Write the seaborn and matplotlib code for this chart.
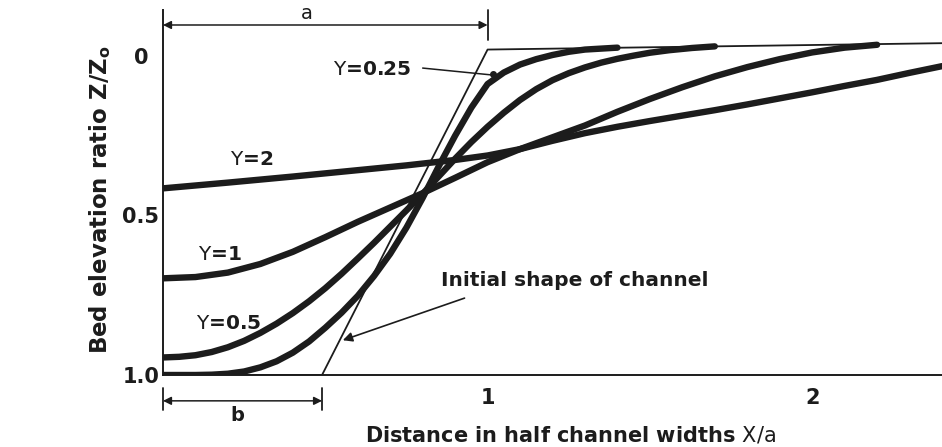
import matplotlib
matplotlib.use("Agg")
import matplotlib.pyplot as plt
import seaborn as sns
import pandas as pd

# ---------------- data ----------------
gamma_labels = ["Y=0.25", "Y=0.5", "Y=1", "Y=2"]

g025_x = [0.00, 0.10, 0.15, 0.20, 0.25, 0.30, 0.35, 0.40, 0.45, 0.50, 0.55, 0.60, 0.65,
          0.70, 0.75, 0.80, 0.85, 0.90, 0.95, 1.00, 1.05, 1.10, 1.15, 1.20, 1.25, 1.30, 1.40]
g025_z = [1.000, 1.000, 0.999, 0.996, 0.989, 0.976, 0.957, 0.930, 0.895, 0.852, 0.805, 0.752, 0.690,
          0.620, 0.538, 0.445, 0.345, 0.250, 0.162, 0.088, 0.052, 0.027, 0.010, -0.003, -0.013, -0.020, -0.026]

g05_x = [0.00, 0.05, 0.10, 0.15, 0.20, 0.25, 0.30, 0.35, 0.40, 0.45, 0.50, 0.55, 0.60, 0.65,
         0.70, 0.75, 0.80, 0.85, 0.90, 0.95, 1.00, 1.05, 1.10, 1.15, 1.20, 1.25, 1.30, 1.35,
         1.40, 1.45, 1.50, 1.56, 1.63, 1.70]
g05_z = [0.945, 0.943, 0.938, 0.928, 0.913, 0.893, 0.868, 0.839, 0.806, 0.769, 0.728, 0.683, 0.635, 0.586,
         0.535, 0.484, 0.432, 0.377, 0.322, 0.270, 0.222, 0.178, 0.138, 0.104, 0.076, 0.054, 0.036, 0.021,
         0.009, -0.001, -0.010, -0.018, -0.025, -0.030]

g1_x = [0.0, 0.1, 0.2, 0.3, 0.4, 0.5, 0.6, 0.7, 0.8, 0.9, 1.0, 1.1, 1.2, 1.3, 1.4, 1.5,
        1.6, 1.7, 1.8, 1.9, 2.0, 2.1, 2.2]
g1_z = [0.697, 0.693, 0.679, 0.652, 0.614, 0.568, 0.520, 0.475, 0.430, 0.382, 0.333, 0.292, 0.255, 0.218, 0.175, 0.135,
        0.098, 0.064, 0.035, 0.010, -0.011, -0.026, -0.035]

g2_x = [0.0, 0.2, 0.4, 0.6, 0.75, 0.9, 1.0, 1.1, 1.2, 1.3, 1.4, 1.5, 1.6, 1.7, 1.8, 1.9,
        2.0, 2.1, 2.2, 2.3, 2.4]
g2_z = [0.415, 0.397, 0.378, 0.358, 0.343, 0.326, 0.312, 0.292, 0.266, 0.242, 0.222, 0.204, 0.187, 0.170, 0.152, 0.133,
        0.114, 0.094, 0.075, 0.053, 0.032]

init_x = [0.0, 0.49, 1.0, 2.4]
init_z = [1.0, 1.0, -0.02, -0.04]

x_ticks = [1, 2]
x_ticklabels = ["1", "2"]
y_ticks = [0, 0.5, 1.0]
y_ticklabels = ["0", "0.5", "1.0"]

# ---------------- style ----------------
sns.set_theme(style="white")
plt.rcParams["font.family"] = ["DejaVu Sans"]
plt.rcParams["mathtext.fontset"] = "dejavusans"

INK = "#1c1c1c"
W, H = 942, 447
fig = plt.figure(figsize=(W / 100, H / 100), dpi=100)
fig.patch.set_facecolor("white")

ax_left, ax_right = 163 / W, 942 / W
ax_bottom, ax_top = 1 - 375 / H, 1 - 10 / H
ax = fig.add_axes([ax_left, ax_bottom, ax_right - ax_left, ax_top - ax_bottom])
ax.set_facecolor("white")

curves = [(g025_x, g025_z), (g05_x, g05_z), (g1_x, g1_z), (g2_x, g2_z)]
frames = []
for lab, (xs, zs) in zip(gamma_labels, curves):
    frames.append(pd.DataFrame({"X": xs, "Z": zs, "gamma": lab}))
df = pd.concat(frames, ignore_index=True)

for lab in gamma_labels:
    sub = df[df["gamma"] == lab]
    sns.lineplot(data=sub, x="X", y="Z", ax=ax, color=INK, linewidth=4.6,
                 sort=False, estimator=None, legend=False,
                 solid_capstyle="round", solid_joinstyle="round")

init_df = pd.DataFrame({"X": init_x, "Z": init_z})
sns.lineplot(data=init_df, x="X", y="Z", ax=ax, color=INK, linewidth=1.3,
             sort=False, estimator=None, legend=False)

ax.set_xlim(0, 2.4)
ax.set_ylim(1.0, -0.144)

for s in ["top", "right"]:
    ax.spines[s].set_visible(False)
for s in ["left", "bottom"]:
    ax.spines[s].set_color(INK)
    ax.spines[s].set_linewidth(1.4)

ax.set_xticks(x_ticks)
ax.set_xticklabels(x_ticklabels)
ax.set_yticks(y_ticks)
ax.set_yticklabels(y_ticklabels)
ax.tick_params(axis="x", direction="in", length=7, width=1.3, colors=INK,
               labelsize=15, pad=9)
ax.tick_params(axis="y", direction="in", length=9, width=1.3, colors=INK,
               labelsize=15, pad=16)
for t in ax.get_xticklabels() + ax.get_yticklabels():
    t.set_fontweight("bold")
for t in ax.get_yticklabels():
    t.set_horizontalalignment("center")
ax.set_xlabel("")
ax.set_ylabel("")

# axis titles
fig.text(571 / W, 1 - 435 / H, r"Distance in half channel widths $\mathrm{X/a}$",
         ha="center", va="center", fontsize=15, fontweight="bold", color=INK)
fig.text(100 / W, 1 - 200 / H, r"Bed elevation ratio Z/Z$_\mathbf{o}$",
         ha="center", va="center", rotation=90, fontsize=16.5,
         fontweight="bold", color=INK)

# curve labels
lab_pos = {"Y=0.25": (0.645, 0.044), "Y=2": (0.274, 0.326),
           "Y=1": (0.175, 0.621), "Y=0.5": (0.203, 0.84)}
for lab, (lx, lz) in lab_pos.items():
    ax.text(lx, lz, r"$\mathrm{Y}$" + lab[1:], ha="center", va="center",
            fontsize=14.5, fontweight="bold", color=INK)

# pointer for gamma = 0.25
ax.plot([0.80, 1.017], [0.038, 0.060], color=INK, lw=1.1)
ax.plot([1.017], [0.058], marker="o", ms=4, color=INK)

# Initial shape label and arrow
ax.text(0.858, 0.705, "Initial shape of channel", ha="left", va="center",
        fontsize=14.5, fontweight="bold", color=INK)
ax.annotate("", xy=(0.554, 0.891), xytext=(0.929, 0.759),
            arrowprops=dict(arrowstyle="-|>", color=INK, lw=1.2,
                            mutation_scale=14, shrinkA=0, shrinkB=0))

# dimension "a"
ax.annotate("", xy=(0.0, -0.097), xytext=(1.0, -0.097),
            arrowprops=dict(arrowstyle="<|-|>", color=INK, lw=1.1,
                            mutation_scale=12, shrinkA=0, shrinkB=0),
            annotation_clip=False)
ax.plot([1.0, 1.0], [-0.144, -0.05], color=INK, lw=1.3, clip_on=False)
ax.text(0.443, -0.132, "a", ha="center", va="center", fontsize=14,
        color=INK, clip_on=False)

# dimension "b"
ax.annotate("", xy=(0.0, 1.081), xytext=(0.49, 1.081),
            arrowprops=dict(arrowstyle="<|-|>", color=INK, lw=1.1,
                            mutation_scale=12, shrinkA=0, shrinkB=0),
            annotation_clip=False)
for bx in [0.0, 0.49]:
    ax.plot([bx, bx], [1.041, 1.11], color=INK, lw=1.3, clip_on=False)
ax.text(0.228, 1.128, "b", ha="center", va="center", fontsize=14,
        fontweight="bold", color=INK, clip_on=False)

fig.savefig("out.png", dpi=100, facecolor="white")
